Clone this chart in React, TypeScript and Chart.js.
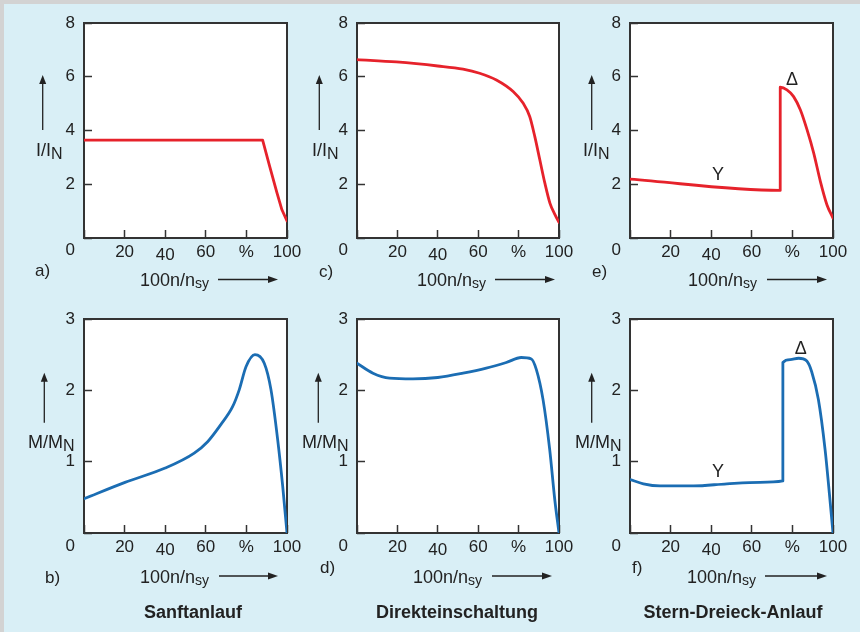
import React, { useEffect, useRef } from 'react';
import { Chart, registerables } from 'chart.js';

Chart.register(...registerables);

// ---------- data ----------
const X_TICKS = [0, 20, 40, 60, 80, 100];
const X_TICK_LABELS = ['', '20', '40', '60', '%', '100'];
const CURRENT_MAX = 8;
const CURRENT_STEP = 2;
const TORQUE_MAX = 3;
const TORQUE_STEP = 1;

// a) Sanftanlauf – current
const softCurrentX = [0, 88, 91.5, 95.1, 97.5, 100];
const softCurrentY = [3.64, 3.64, 2.66, 1.67, 1.05, 0.64];

// c) Direkteinschaltung – current
const directCurrentX = [0, 19.5, 40, 52.5, 60.7, 69, 77.3, 82.2, 85.5, 88, 90.5, 93, 95.5, 98, 100];
const directCurrentY = [6.64, 6.55, 6.4, 6.28, 6.13, 5.88, 5.45, 5.02, 4.52, 3.78, 2.91, 2.04, 1.3, 0.87, 0.58];

// e) Stern-Dreieck – current
const starDeltaCurrentX = [0, 74, 74.01, 77.3, 80.6, 83.9, 87.2, 90.5, 93.8, 97, 100];
const starDeltaCurrentY = [2.19, 1.77, 5.61, 5.51, 5.26, 4.77, 4.03, 3.16, 2.1, 1.24, 0.74];

// b) Sanftanlauf – torque
const softTorqueX = [0, 20.2, 40, 54.3, 60.9, 67.4, 73.2, 76.5, 79.8, 84.2, 88.8, 92.1, 95.4, 97.9, 100];
const softTorqueY = [0.48, 0.71, 0.91, 1.12, 1.28, 1.52, 1.77, 2.01, 2.33, 2.5, 2.38, 2.01, 1.31, 0.65, 0];

// d) Direkteinschaltung – torque
const directTorqueX = [0, 7.9, 16.1, 27.7, 40, 52.5, 64, 73.9, 81.3, 86.3, 88.8, 92.1, 95.4, 97.9, 100];
const directTorqueY = [2.38, 2.24, 2.17, 2.16, 2.18, 2.24, 2.31, 2.39, 2.46, 2.44, 2.29, 1.87, 1.17, 0.47, 0];

// f) Stern-Dreieck – torque
const starDeltaTorqueX = [0, 6.6, 14.8, 31.3, 47.7, 64.1, 75.3, 75.31, 78.9, 83, 87.1, 89.5, 92.8, 96.1, 98.2, 100];
const starDeltaTorqueY = [0.75, 0.69, 0.66, 0.66, 0.69, 0.71, 0.73, 2.39, 2.43, 2.45, 2.41, 2.26, 1.87, 1.17, 0.56, 0];

const starDeltaCurrentNotes = [
  { text: 'Y', x: 43.4, y: 2.35 },
  { text: 'Δ', x: 79.8, y: 5.88 },
];
const starDeltaTorqueNotes = [
  { text: 'Y', x: 43.4, y: 0.86 },
  { text: 'Δ', x: 84.1, y: 2.58 },
];

// ---------- styling ----------
const FONT = '"Liberation Sans", Arial, Helvetica, sans-serif';
const RED = '#e6222b';
const BLUE = '#1b6db3';
const INK = '#222222';
const BG = '#d9eff6';

const PAD_L = 10, PAD_T = 40, PAD_R = 35, PAD_B = 15, Y_W = 50, X_H = 30;

type Note = { text: string; x: number; y: number };

const framePlugin = {
  id: 'frame',
  beforeDraw(chart: any) {
    const { ctx, chartArea: a } = chart;
    ctx.save();
    ctx.fillStyle = '#ffffff';
    ctx.fillRect(a.left, a.top, a.right - a.left, a.bottom - a.top);
    ctx.restore();
  },
  beforeDatasetsDraw(chart: any) {
    const { ctx, chartArea: a } = chart;
    ctx.save();
    ctx.strokeStyle = '#333333';
    ctx.lineWidth = 2;
    ctx.strokeRect(a.left, a.top, a.right - a.left, a.bottom - a.top);
    ctx.restore();
  },
  afterDatasetsDraw(chart: any, _args: any, opts: any) {
    const notes: Note[] = (opts && opts.notes) || [];
    const { ctx } = chart;
    const xs = chart.scales.x;
    const ys = chart.scales.y;
    ctx.save();
    ctx.fillStyle = INK;
    ctx.font = `18px ${FONT}`;
    ctx.textAlign = 'center';
    ctx.textBaseline = 'middle';
    notes.forEach((n) => {
      ctx.fillText(n.text, xs.getPixelForValue(n.x), ys.getPixelForValue(n.y));
    });
    ctx.restore();
  },
};

type PanelProps = {
  left: number; top: number; right: number; bottom: number;
  xs: number[]; ys: number[]; color: string;
  yMax: number; yStep: number; smooth: boolean; notes?: Note[];
  zeroDrop: number;
};

function Panel(p: PanelProps) {
  const ref = useRef<HTMLCanvasElement | null>(null);
  const W = p.right - p.left + PAD_L + Y_W + PAD_R;
  const H = p.bottom - p.top + PAD_T + PAD_B + X_H;
  useEffect(() => {
    if (!ref.current) return;
    const chart = new Chart(ref.current, {
      type: 'line',
      data: {
        datasets: [
          {
            data: p.xs.map((x, i) => ({ x, y: p.ys[i] })),
            borderColor: p.color,
            borderWidth: 2.8,
            pointRadius: 0,
            fill: false,
            tension: 0,
            cubicInterpolationMode: p.smooth ? 'monotone' : 'default',
            borderCapStyle: 'round',
            borderJoinStyle: 'round',
          } as any,
        ],
      },
      options: {
        animation: false,
        responsive: false,
        devicePixelRatio: 1,
        layout: { padding: { left: PAD_L, top: PAD_T, right: PAD_R, bottom: PAD_B } },
        plugins: {
          legend: { display: false },
          tooltip: { enabled: false },
          frame: { notes: p.notes || [] },
        } as any,
        scales: {
          x: {
            type: 'linear',
            min: 0,
            max: 100,
            afterFit: (s: any) => { s.height = X_H; },
            afterBuildTicks: (s: any) => { s.ticks = X_TICKS.map((v) => ({ value: v })); },
            border: { display: false },
            grid: {
              display: true,
              drawOnChartArea: false,
              drawTicks: true,
              tickLength: -8,
              tickColor: '#333333',
              tickWidth: 1.5,
            },
            ticks: {
              padding: 12.5,
              maxRotation: 0,
              autoSkip: false,
              color: INK,
              font: (ctx: any) => ({
                family: FONT,
                size: 17,
                lineHeight: ctx.tick && ctx.tick.value === 40 ? 1.5 : 1.2,
              }),
              callback: (v: any) => {
                const i = X_TICKS.indexOf(Number(v));
                return i >= 0 ? X_TICK_LABELS[i] : '';
              },
            },
          },
          y: {
            type: 'linear',
            min: 0,
            max: p.yMax,
            afterFit: (s: any) => { s.width = Y_W; },
            border: { display: false },
            grid: {
              display: true,
              drawOnChartArea: false,
              drawTicks: true,
              tickLength: -8,
              tickColor: '#333333',
              tickWidth: 1.5,
            },
            ticks: {
              stepSize: p.yStep,
              padding: 17,
              color: INK,
              font: (ctx: any) => ({
                family: FONT,
                size: 17,
                lineHeight: ctx.tick && ctx.tick.value === 0 ? p.zeroDrop : 1.2,
              }),
              callback: (v: any) => (Number(v) === 0 ? ['', '0'] : String(v)),
            },
          },
        },
      } as any,
      plugins: [framePlugin as any],
    });
    return () => chart.destroy();
  }, []);
  return (
    <canvas
      ref={ref}
      width={W}
      height={H}
      style={{ position: 'absolute', left: p.left - PAD_L - Y_W, top: p.top - PAD_T, width: W, height: H }}
    />
  );
}

function Txt(props: { x: number; y: number; children: any; size?: number; bold?: boolean; center?: boolean }) {
  return (
    <div
      style={{
        position: 'absolute',
        left: props.x,
        top: props.y,
        transform: props.center ? 'translate(-50%, -50%)' : 'translateY(-50%)',
        fontFamily: FONT,
        fontSize: props.size || 17,
        fontWeight: props.bold ? 'bold' : 'normal',
        lineHeight: 1,
        color: INK,
        whiteSpace: 'nowrap',
      }}
    >
      {props.children}
    </div>
  );
}

const Sub = (props: { children: any; size?: number; drop?: number }) => (
  <span style={{ position: 'relative', top: props.drop ?? 5, fontSize: props.size }}>{props.children}</span>
);

function UpArrow({ x, y1, y2 }: { x: number; y1: number; y2: number }) {
  return (
    <g>
      <line x1={x} y1={y1} x2={x} y2={y2 + 8} stroke={INK} strokeWidth={1.3} />
      <polygon points={`${x},${y2} ${x - 3.5},${y2 + 9} ${x + 3.5},${y2 + 9}`} fill={INK} />
    </g>
  );
}

function RightArrow({ x1, x2, y }: { x1: number; x2: number; y: number }) {
  return (
    <g>
      <line x1={x1} y1={y} x2={x2 - 8} y2={y} stroke={INK} strokeWidth={1.3} />
      <polygon points={`${x2},${y} ${x2 - 10},${y - 3.5} ${x2 - 10},${y + 3.5}`} fill={INK} />
    </g>
  );
}

const COLS = [
  [84, 287],
  [357, 559],
  [630, 833],
];
const TOP_ROW = [23, 238];
const BOT_ROW = [319, 533];

export default function App() {
  useEffect(() => {
    document.body.style.margin = '0';
  }, []);
  const xTitle = (
    <>
      100n/n<Sub size={14} drop={2}>sy</Sub>
    </>
  );
  const iN = (
    <>
      I/I<Sub size={16} drop={3}>N</Sub>
    </>
  );
  const mN = (
    <>
      M/M<Sub size={16} drop={3}>N</Sub>
    </>
  );
  return (
    <div style={{ position: 'absolute', left: 0, top: 0, width: 860, height: 632, background: BG, overflow: 'hidden' }}>
      <div style={{ position: 'absolute', left: 0, top: 0, width: 860, height: 4, background: '#d3d3d3' }} />
      <div style={{ position: 'absolute', left: 0, top: 0, width: 4, height: 632, background: '#d3d3d3' }} />

      <Panel left={COLS[0][0]} right={COLS[0][1]} top={TOP_ROW[0]} bottom={TOP_ROW[1]} zeroDrop={1.4}
        xs={softCurrentX} ys={softCurrentY} color={RED} yMax={CURRENT_MAX} yStep={CURRENT_STEP} smooth={false} />
      <Panel left={COLS[1][0]} right={COLS[1][1]} top={TOP_ROW[0]} bottom={TOP_ROW[1]} zeroDrop={1.4}
        xs={directCurrentX} ys={directCurrentY} color={RED} yMax={CURRENT_MAX} yStep={CURRENT_STEP} smooth={true} />
      <Panel left={COLS[2][0]} right={COLS[2][1]} top={TOP_ROW[0]} bottom={TOP_ROW[1]} zeroDrop={1.4}
        xs={starDeltaCurrentX} ys={starDeltaCurrentY} color={RED} yMax={CURRENT_MAX} yStep={CURRENT_STEP} smooth={true}
        notes={starDeltaCurrentNotes} />
      <Panel left={COLS[0][0]} right={COLS[0][1]} top={BOT_ROW[0]} bottom={BOT_ROW[1]} zeroDrop={1.55}
        xs={softTorqueX} ys={softTorqueY} color={BLUE} yMax={TORQUE_MAX} yStep={TORQUE_STEP} smooth={true} />
      <Panel left={COLS[1][0]} right={COLS[1][1]} top={BOT_ROW[0]} bottom={BOT_ROW[1]} zeroDrop={1.55}
        xs={directTorqueX} ys={directTorqueY} color={BLUE} yMax={TORQUE_MAX} yStep={TORQUE_STEP} smooth={true} />
      <Panel left={COLS[2][0]} right={COLS[2][1]} top={BOT_ROW[0]} bottom={BOT_ROW[1]} zeroDrop={1.55}
        xs={starDeltaTorqueX} ys={starDeltaTorqueY} color={BLUE} yMax={TORQUE_MAX} yStep={TORQUE_STEP} smooth={true}
        notes={starDeltaTorqueNotes} />

      <svg width={860} height={632} style={{ position: 'absolute', left: 0, top: 0 }}>
        <UpArrow x={42.7} y1={130} y2={75} />
        <UpArrow x={319.3} y1={130} y2={75} />
        <UpArrow x={591.7} y1={130} y2={75} />
        <UpArrow x={44.3} y1={422.7} y2={372.7} />
        <UpArrow x={318.3} y1={422.7} y2={372.7} />
        <UpArrow x={591.7} y1={422.7} y2={372.7} />
        <RightArrow x1={218} x2={278} y={279.5} />
        <RightArrow x1={495} x2={555} y={279.5} />
        <RightArrow x1={767} x2={827} y={279.5} />
        <RightArrow x1={219} x2={278} y={576} />
        <RightArrow x1={492} x2={552} y={576} />
        <RightArrow x1={765} x2={827} y={576} />
      </svg>

      <Txt x={36} y={150} size={18}>{iN}</Txt>
      <Txt x={312} y={150} size={18}>{iN}</Txt>
      <Txt x={583} y={150} size={18}>{iN}</Txt>
      <Txt x={28} y={442} size={18}>{mN}</Txt>
      <Txt x={302} y={442} size={18}>{mN}</Txt>
      <Txt x={575} y={442} size={18}>{mN}</Txt>

      <Txt x={140} y={280} size={18}>{xTitle}</Txt>
      <Txt x={417} y={280} size={18}>{xTitle}</Txt>
      <Txt x={688} y={280} size={18}>{xTitle}</Txt>
      <Txt x={140} y={577} size={18}>{xTitle}</Txt>
      <Txt x={413} y={577} size={18}>{xTitle}</Txt>
      <Txt x={687} y={577} size={18}>{xTitle}</Txt>

      <Txt x={35} y={270}>a)</Txt>
      <Txt x={319} y={271}>c)</Txt>
      <Txt x={592} y={271}>e)</Txt>
      <Txt x={45} y={576.5}>b)</Txt>
      <Txt x={320} y={566.5}>d)</Txt>
      <Txt x={632} y={566.5}>f)</Txt>

      <Txt x={193} y={612} size={18} bold center>Sanftanlauf</Txt>
      <Txt x={457} y={612} size={18} bold center>Direkteinschaltung</Txt>
      <Txt x={733} y={612} size={18} bold center>Stern-Dreieck-Anlauf</Txt>
    </div>
  );
}
